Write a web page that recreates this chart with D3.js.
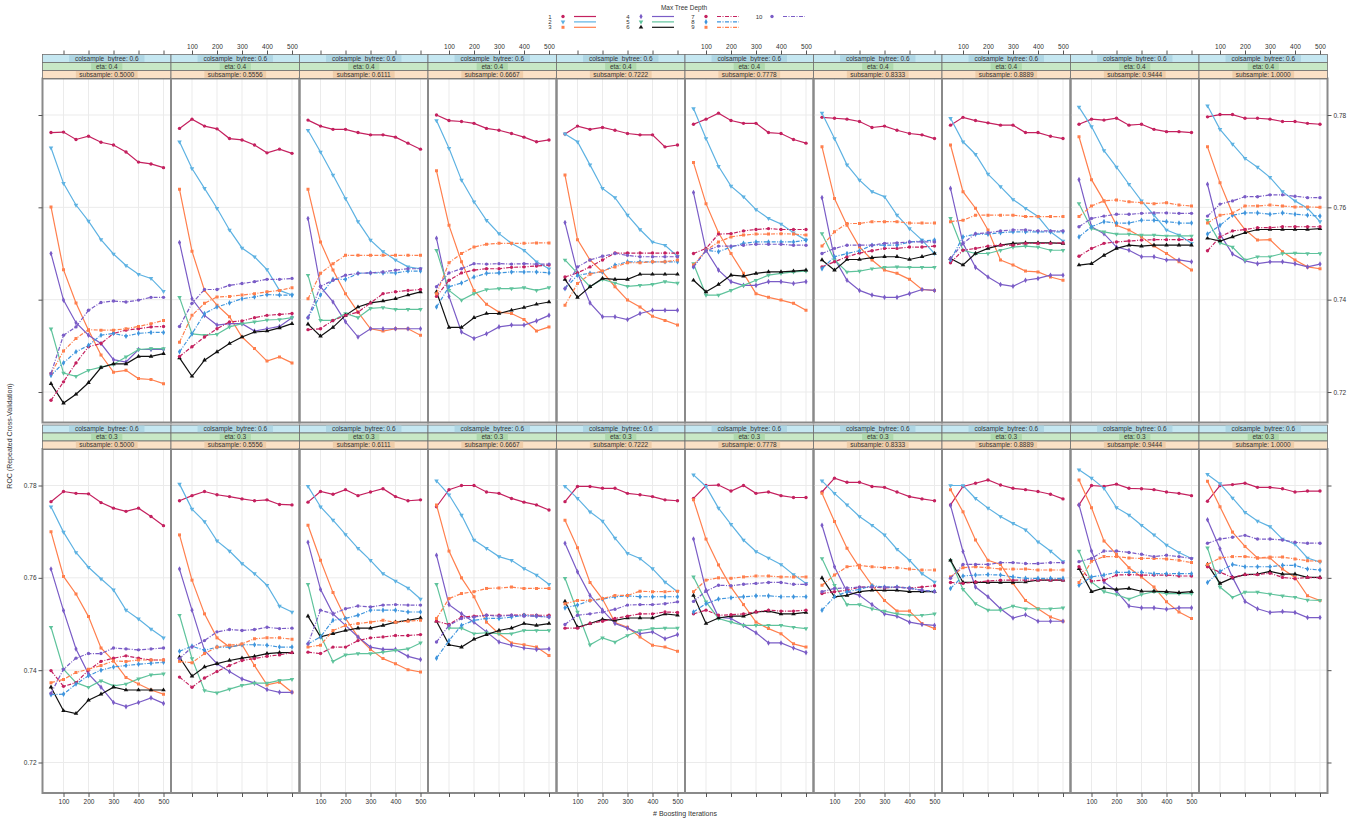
<!DOCTYPE html>
<html>
<head>
<meta charset="utf-8">
<script src="https://cdn.jsdelivr.net/npm/d3@7"></script>
<style>
  body { margin: 0; background: #fff; }
  text { font-family: "Liberation Sans", Arial, sans-serif; }
</style>
</head>
<body>
<svg id="chart" width="1357" height="820"></svg>
<script>
// ----- DATA -----
const iterations = [50, 100, 150, 200, 250, 300, 350, 400, 450, 500];
const depths = [1, 2, 3, 4, 5, 6, 7, 8, 9, 10];
const subsampleLabels = ["0.5000", "0.5556", "0.6111", "0.6667", "0.7222", "0.7778", "0.8333", "0.8889", "0.9444", "1.0000"];
const etaLabels = ["0.4", "0.3"];
const colsampleLabel = "0.6";
const xTicks = [100, 200, 300, 400, 500];
const yTicks = [0.72, 0.74, 0.76, 0.78];

// ROC per max tree depth (rows) by boosting iterations (columns), eta 0.4
const roc_eta04_sub05000 = [
  [.7762,.7763,.7747,.7754,.7741,.7735,.7720,.7698,.7694,.7686],
  [.7729,.7652,.7605,.7570,.7530,.7499,.7474,.7455,.7446,.7418],
  [.7601,.7465,.7393,.7334,.7280,.7243,.7247,.7229,.7227,.7218],
  [.7500,.7399,.7350,.7323,.7305,.7270,.7265,.7292,.7292,.7292],
  [.7337,.7241,.7234,.7247,.7254,.7260,.7276,.7292,.7294,.7294],
  [.7218,.7176,.7195,.7220,.7253,.7261,.7261,.7277,.7277,.7283],
  [.7182,.7222,.7263,.7298,.7305,.7327,.7334,.7337,.7341,.7342],
  [.7236,.7263,.7287,.7301,.7323,.7327,.7321,.7327,.7329,.7329],
  [.7240,.7289,.7316,.7335,.7334,.7334,.7337,.7342,.7348,.7355],
  [.7240,.7323,.7341,.7377,.7394,.7397,.7395,.7399,.7405,.7405]];
const roc_eta04_sub05556 = [
  [.7771,.7791,.7776,.7770,.7749,.7746,.7735,.7718,.7726,.7717],
  [.7742,.7684,.7641,.7598,.7551,.7512,.7493,.7465,.7420,.7410],
  [.7639,.7505,.7420,.7388,.7363,.7319,.7294,.7267,.7276,.7263],
  [.7524,.7402,.7366,.7345,.7348,.7348,.7332,.7337,.7342,.7361],
  [.7405,.7326,.7323,.7325,.7341,.7348,.7352,.7356,.7357,.7361],
  [.7274,.7234,.7269,.7287,.7305,.7319,.7330,.7332,.7339,.7348],
  [.7277,.7298,.7319,.7337,.7352,.7354,.7361,.7366,.7368,.7370],
  [.7287,.7326,.7370,.7384,.7393,.7402,.7406,.7411,.7410,.7410],
  [.7308,.7366,.7392,.7406,.7407,.7410,.7413,.7417,.7420,.7426],
  [.7342,.7392,.7422,.7422,.7431,.7435,.7439,.7444,.7444,.7446]];
const roc_eta04_sub06111 = [
  [.7789,.7776,.7769,.7769,.7762,.7757,.7757,.7752,.7739,.7726],
  [.7767,.7720,.7670,.7619,.7569,.7529,.7504,.7486,.7471,.7467],
  [.7639,.7525,.7464,.7413,.7373,.7337,.7332,.7337,.7337,.7323],
  [.7576,.7428,.7395,.7352,.7319,.7337,.7337,.7337,.7337,.7337],
  [.7453,.7355,.7355,.7370,.7361,.7381,.7383,.7379,.7379,.7379],
  [.7347,.7321,.7340,.7366,.7384,.7393,.7397,.7402,.7410,.7417],
  [.7335,.7337,.7355,.7366,.7373,.7393,.7413,.7417,.7420,.7422],
  [.7361,.7410,.7444,.7444,.7457,.7458,.7458,.7458,.7462,.7462],
  [.7402,.7457,.7478,.7496,.7496,.7496,.7496,.7496,.7496,.7496],
  [.7361,.7429,.7442,.7453,.7457,.7458,.7460,.7464,.7467,.7467]];
const roc_eta04_sub06667 = [
  [.7800,.7788,.7786,.7782,.7771,.7767,.7760,.7752,.7742,.7746],
  [.7788,.7728,.7659,.7612,.7572,.7543,.7522,.7507,.7482,.7467],
  [.7679,.7561,.7482,.7420,.7390,.7373,.7370,.7357,.7332,.7341],
  [.7533,.7407,.7330,.7316,.7326,.7341,.7345,.7345,.7354,.7366],
  [.7507,.7420,.7399,.7413,.7422,.7424,.7424,.7426,.7420,.7426],
  [.7417,.7340,.7340,.7361,.7370,.7370,.7377,.7383,.7390,.7395],
  [.7407,.7442,.7458,.7464,.7467,.7467,.7470,.7471,.7473,.7475],
  [.7384,.7428,.7436,.7449,.7457,.7458,.7460,.7460,.7460,.7458],
  [.7413,.7480,.7500,.7514,.7520,.7522,.7522,.7522,.7523,.7523],
  [.7428,.7458,.7467,.7478,.7477,.7478,.7477,.7478,.7477,.7477]];
const roc_eta04_sub07222 = [
  [.7759,.7776,.7769,.7773,.7767,.7760,.7757,.7757,.7731,.7735],
  [.7759,.7742,.7692,.7641,.7621,.7583,.7552,.7525,.7518,.7494],
  [.7670,.7530,.7486,.7460,.7428,.7399,.7384,.7364,.7355,.7345],
  [.7567,.7458,.7393,.7363,.7363,.7357,.7370,.7377,.7377,.7377],
  [.7486,.7457,.7428,.7444,.7436,.7429,.7431,.7433,.7439,.7436],
  [.7444,.7405,.7428,.7446,.7444,.7444,.7455,.7455,.7455,.7455],
  [.7449,.7458,.7471,.7486,.7501,.7501,.7501,.7501,.7501,.7501],
  [.7424,.7453,.7457,.7460,.7475,.7482,.7482,.7482,.7482,.7482],
  [.7388,.7435,.7455,.7462,.7471,.7480,.7480,.7482,.7482,.7486],
  [.7424,.7471,.7486,.7494,.7500,.7496,.7493,.7493,.7493,.7493]];
const roc_eta04_sub07778 = [
  [.7780,.7791,.7804,.7788,.7782,.7782,.7762,.7760,.7747,.7739],
  [.7814,.7749,.7689,.7646,.7623,.7595,.7576,.7564,.7545,.7529],
  [.7697,.7608,.7545,.7500,.7457,.7413,.7405,.7399,.7392,.7377],
  [.7632,.7507,.7464,.7439,.7431,.7431,.7439,.7439,.7435,.7439],
  [.7478,.7410,.7410,.7420,.7431,.7442,.7453,.7457,.7460,.7462],
  [.7442,.7417,.7433,.7453,.7451,.7457,.7460,.7460,.7462,.7464],
  [.7500,.7511,.7542,.7543,.7549,.7552,.7554,.7552,.7552,.7552],
  [.7471,.7507,.7504,.7514,.7522,.7525,.7525,.7525,.7525,.7529],
  [.7475,.7507,.7525,.7536,.7540,.7542,.7542,.7543,.7542,.7540],
  [.7471,.7506,.7516,.7516,.7518,.7520,.7520,.7520,.7518,.7518]];
const roc_eta04_sub08333 = [
  [.7795,.7793,.7791,.7786,.7773,.7776,.7767,.7760,.7757,.7749],
  [.7804,.7749,.7692,.7659,.7634,.7623,.7583,.7554,.7529,.7500],
  [.7731,.7619,.7561,.7514,.7486,.7464,.7457,.7444,.7422,.7420],
  [.7621,.7489,.7442,.7420,.7410,.7405,.7405,.7413,.7422,.7420],
  [.7543,.7486,.7460,.7462,.7467,.7470,.7471,.7470,.7470,.7470],
  [.7486,.7464,.7487,.7487,.7491,.7493,.7493,.7487,.7493,.7500],
  [.7471,.7482,.7493,.7501,.7506,.7511,.7511,.7514,.7514,.7516],
  [.7467,.7493,.7500,.7506,.7518,.7518,.7518,.7525,.7527,.7529],
  [.7516,.7547,.7565,.7565,.7569,.7569,.7569,.7566,.7566,.7566],
  [.7500,.7511,.7518,.7518,.7518,.7522,.7523,.7525,.7525,.7525]];
const roc_eta04_sub08889 = [
  [.7778,.7795,.7788,.7783,.7778,.7778,.7762,.7762,.7754,.7749],
  [.7793,.7742,.7715,.7672,.7645,.7617,.7598,.7580,.7547,.7527],
  [.7735,.7634,.7598,.7551,.7486,.7475,.7462,.7460,.7449,.7442],
  [.7641,.7522,.7470,.7449,.7433,.7429,.7442,.7446,.7453,.7453],
  [.7576,.7507,.7500,.7500,.7507,.7514,.7516,.7514,.7507,.7507],
  [.7489,.7475,.7500,.7511,.7518,.7522,.7523,.7523,.7523,.7522],
  [.7480,.7507,.7511,.7516,.7518,.7518,.7522,.7522,.7522,.7523],
  [.7486,.7536,.7542,.7542,.7545,.7547,.7547,.7547,.7547,.7547],
  [.7569,.7572,.7583,.7583,.7583,.7583,.7580,.7580,.7580,.7580],
  [.7489,.7522,.7543,.7545,.7549,.7551,.7551,.7549,.7549,.7549]];
const roc_eta04_sub09444 = [
  [.7780,.7791,.7789,.7793,.7778,.7780,.7769,.7764,.7764,.7762],
  [.7817,.7775,.7723,.7687,.7650,.7614,.7583,.7551,.7540,.7522],
  [.7753,.7660,.7614,.7561,.7551,.7536,.7516,.7500,.7482,.7464],
  [.7660,.7558,.7543,.7514,.7507,.7493,.7493,.7486,.7486,.7482],
  [.7608,.7554,.7547,.7542,.7542,.7540,.7540,.7538,.7538,.7538],
  [.7475,.7478,.7496,.7511,.7518,.7516,.7518,.7518,.7518,.7518],
  [.7494,.7511,.7522,.7525,.7527,.7529,.7530,.7530,.7530,.7530],
  [.7536,.7558,.7569,.7566,.7566,.7572,.7572,.7569,.7566,.7566],
  [.7580,.7603,.7614,.7616,.7612,.7610,.7608,.7610,.7605,.7603],
  [.7558,.7576,.7581,.7585,.7585,.7587,.7588,.7588,.7587,.7587]];
const roc_eta04_sub10000 = [
  [.7796,.7801,.7801,.7793,.7793,.7791,.7786,.7786,.7782,.7780],
  [.7820,.7769,.7737,.7706,.7687,.7665,.7634,.7614,.7598,.7569],
  [.7731,.7653,.7587,.7552,.7529,.7530,.7504,.7486,.7471,.7467],
  [.7650,.7542,.7499,.7484,.7478,.7482,.7482,.7478,.7471,.7477],
  [.7572,.7523,.7514,.7486,.7493,.7493,.7500,.7501,.7500,.7500],
  [.7533,.7527,.7536,.7545,.7552,.7552,.7552,.7552,.7552,.7554],
  [.7506,.7536,.7549,.7552,.7556,.7556,.7558,.7558,.7558,.7558],
  [.7542,.7561,.7583,.7588,.7588,.7585,.7588,.7585,.7583,.7581],
  [.7566,.7583,.7587,.7603,.7603,.7605,.7603,.7601,.7601,.7600],
  [.7581,.7607,.7614,.7623,.7623,.7627,.7627,.7624,.7621,.7621]];

// eta 0.3
const roc_eta03_sub05000 = [
  [.7765,.7787,.7783,.7782,.7763,.7751,.7744,.7751,.7733,.7713],
  [.7754,.7699,.7655,.7623,.7598,.7574,.7530,.7511,.7489,.7470],
  [.7700,.7603,.7565,.7516,.7448,.7420,.7384,.7370,.7357,.7348],
  [.7619,.7529,.7446,.7392,.7363,.7330,.7321,.7330,.7340,.7328],
  [.7493,.7402,.7373,.7363,.7377,.7366,.7370,.7381,.7390,.7392],
  [.7363,.7312,.7306,.7335,.7348,.7363,.7357,.7357,.7357,.7357],
  [.7399,.7365,.7373,.7400,.7419,.7426,.7431,.7426,.7422,.7422],
  [.7347,.7348,.7370,.7388,.7400,.7407,.7410,.7413,.7415,.7417],
  [.7373,.7380,.7395,.7402,.7410,.7420,.7419,.7422,.7422,.7422],
  [.7350,.7402,.7426,.7436,.7436,.7448,.7446,.7444,.7446,.7448]];
const roc_eta03_sub05556 = [
  [.7767,.7778,.7787,.7780,.7776,.7771,.7767,.7769,.7759,.7758],
  [.7803,.7749,.7722,.7680,.7658,.7631,.7609,.7584,.7539,.7526],
  [.7693,.7595,.7522,.7470,.7450,.7455,.7410,.7368,.7374,.7352],
  [.7619,.7530,.7443,.7414,.7397,.7381,.7372,.7358,.7352,.7352],
  [.7519,.7425,.7356,.7351,.7359,.7367,.7372,.7372,.7378,.7380],
  [.7428,.7387,.7407,.7414,.7421,.7426,.7430,.7436,.7438,.7438],
  [.7385,.7363,.7383,.7397,.7410,.7421,.7425,.7430,.7433,.7438],
  [.7441,.7452,.7443,.7450,.7450,.7455,.7455,.7454,.7450,.7450],
  [.7419,.7416,.7436,.7450,.7454,.7457,.7468,.7470,.7470,.7467],
  [.7425,.7450,.7464,.7483,.7488,.7486,.7488,.7493,.7490,.7491]];
const roc_eta03_sub06111 = [
  [.7764,.7787,.7781,.7791,.7778,.7786,.7793,.7776,.7767,.7769],
  [.7798,.7754,.7725,.7694,.7664,.7638,.7609,.7593,.7578,.7554],
  [.7714,.7638,.7568,.7512,.7472,.7445,.7425,.7414,.7401,.7396],
  [.7677,.7575,.7522,.7497,.7472,.7450,.7445,.7445,.7430,.7423],
  [.7586,.7475,.7419,.7433,.7436,.7436,.7439,.7443,.7446,.7459],
  [.7517,.7472,.7479,.7486,.7491,.7491,.7497,.7504,.7508,.7513],
  [.7439,.7436,.7450,.7450,.7464,.7470,.7472,.7475,.7475,.7477],
  [.7457,.7472,.7508,.7512,.7519,.7530,.7530,.7530,.7526,.7526],
  [.7450,.7454,.7486,.7497,.7501,.7504,.7508,.7504,.7506,.7508],
  [.7457,.7530,.7522,.7533,.7539,.7537,.7541,.7542,.7541,.7541]];
const roc_eta03_sub06667 = [
  [.7754,.7791,.7800,.7800,.7786,.7783,.7772,.7764,.7758,.7747],
  [.7810,.7780,.7736,.7682,.7664,.7646,.7638,.7620,.7606,.7586],
  [.7758,.7658,.7600,.7559,.7504,.7479,.7459,.7455,.7450,.7432],
  [.7649,.7542,.7522,.7504,.7483,.7461,.7454,.7448,.7445,.7446],
  [.7586,.7491,.7491,.7479,.7481,.7479,.7479,.7486,.7486,.7486],
  [.7506,.7455,.7450,.7467,.7477,.7486,.7491,.7501,.7497,.7501],
  [.7506,.7499,.7515,.7517,.7519,.7519,.7519,.7520,.7519,.7519],
  [.7426,.7464,.7497,.7508,.7512,.7512,.7515,.7519,.7517,.7515],
  [.7512,.7555,.7566,.7570,.7577,.7578,.7580,.7577,.7577,.7577],
  [.7461,.7497,.7512,.7515,.7519,.7517,.7519,.7517,.7517,.7515]];
const roc_eta03_sub07222 = [
  [.7765,.7798,.7798,.7794,.7794,.7783,.7780,.7776,.7769,.7767],
  [.7798,.7772,.7743,.7723,.7686,.7653,.7642,.7620,.7591,.7570],
  [.7725,.7665,.7590,.7554,.7503,.7493,.7472,.7454,.7450,.7441],
  [.7675,.7613,.7562,.7530,.7501,.7491,.7479,.7483,.7468,.7477],
  [.7599,.7526,.7455,.7470,.7461,.7475,.7486,.7490,.7491,.7491],
  [.7549,.7493,.7501,.7510,.7508,.7513,.7513,.7513,.7522,.7519],
  [.7491,.7491,.7501,.7506,.7512,.7517,.7522,.7522,.7526,.7525],
  [.7535,.7541,.7551,.7554,.7559,.7561,.7559,.7559,.7559,.7559],
  [.7544,.7551,.7551,.7555,.7562,.7562,.7571,.7570,.7570,.7571],
  [.7499,.7519,.7522,.7526,.7532,.7541,.7542,.7542,.7544,.7548]];
const roc_eta03_sub07778 = [
  [.7772,.7800,.7801,.7788,.7800,.7783,.7786,.7778,.7774,.7774],
  [.7823,.7798,.7751,.7716,.7682,.7657,.7643,.7629,.7607,.7588],
  [.7769,.7684,.7628,.7580,.7542,.7504,.7490,.7479,.7457,.7450],
  [.7684,.7573,.7515,.7512,.7497,.7481,.7459,.7459,.7448,.7438],
  [.7602,.7548,.7512,.7504,.7497,.7497,.7497,.7497,.7493,.7490],
  [.7562,.7501,.7513,.7517,.7517,.7526,.7528,.7522,.7522,.7525],
  [.7522,.7530,.7519,.7520,.7522,.7526,.7530,.7528,.7528,.7530],
  [.7526,.7544,.7554,.7557,.7559,.7561,.7561,.7559,.7559,.7559],
  [.7570,.7595,.7600,.7599,.7602,.7604,.7604,.7602,.7602,.7602],
  [.7549,.7571,.7584,.7583,.7586,.7588,.7590,.7590,.7586,.7586]];
const roc_eta03_sub08333 = [
  [.7786,.7816,.7807,.7807,.7798,.7796,.7786,.7776,.7771,.7767],
  [.7810,.7783,.7758,.7733,.7714,.7693,.7662,.7638,.7609,.7591],
  [.7783,.7722,.7664,.7622,.7584,.7551,.7528,.7528,.7501,.7490],
  [.7714,.7624,.7570,.7562,.7542,.7522,.7517,.7504,.7499,.7497],
  [.7642,.7584,.7542,.7542,.7533,.7528,.7522,.7519,.7519,.7522],
  [.7600,.7559,.7562,.7570,.7573,.7573,.7573,.7570,.7570,.7570],
  [.7566,.7570,.7573,.7580,.7580,.7578,.7580,.7578,.7580,.7583],
  [.7530,.7559,.7570,.7575,.7583,.7580,.7580,.7578,.7573,.7571],
  [.7584,.7606,.7624,.7627,.7624,.7622,.7622,.7619,.7617,.7617],
  [.7570,.7577,.7578,.7580,.7580,.7580,.7580,.7577,.7573,.7570]];
const roc_eta03_sub08889 = [
  [.7758,.7798,.7805,.7812,.7801,.7794,.7791,.7787,.7781,.7771],
  [.7800,.7800,.7772,.7751,.7733,.7718,.7704,.7678,.7658,.7635],
  [.7791,.7743,.7682,.7638,.7629,.7588,.7551,.7533,.7515,.7506],
  [.7757,.7657,.7580,.7559,.7533,.7513,.7520,.7506,.7506,.7506],
  [.7638,.7575,.7544,.7530,.7530,.7539,.7533,.7533,.7533,.7535],
  [.7638,.7590,.7590,.7590,.7590,.7590,.7591,.7595,.7595,.7595],
  [.7590,.7588,.7591,.7593,.7595,.7595,.7595,.7595,.7595,.7595],
  [.7577,.7604,.7606,.7607,.7606,.7602,.7599,.7599,.7599,.7599],
  [.7602,.7622,.7624,.7622,.7619,.7619,.7619,.7617,.7617,.7617],
  [.7599,.7629,.7629,.7629,.7633,.7633,.7631,.7631,.7633,.7633]];
const roc_eta03_sub09444 = [
  [.7758,.7800,.7798,.7803,.7794,.7793,.7791,.7786,.7783,.7778],
  [.7834,.7816,.7794,.7752,.7736,.7714,.7693,.7671,.7655,.7642],
  [.7812,.7752,.7680,.7651,.7622,.7602,.7580,.7548,.7526,.7512],
  [.7758,.7658,.7591,.7571,.7539,.7535,.7535,.7532,.7535,.7535],
  [.7658,.7591,.7570,.7564,.7554,.7564,.7570,.7566,.7566,.7566],
  [.7620,.7570,.7578,.7575,.7577,.7571,.7571,.7570,.7568,.7570],
  [.7624,.7593,.7595,.7606,.7607,.7606,.7606,.7606,.7604,.7604],
  [.7584,.7602,.7606,.7612,.7612,.7612,.7609,.7609,.7609,.7609],
  [.7590,.7636,.7646,.7646,.7643,.7642,.7642,.7641,.7638,.7633],
  [.7635,.7642,.7658,.7658,.7655,.7651,.7646,.7649,.7646,.7642]];
const roc_eta03_sub10000 = [
  [.7766,.7800,.7802,.7805,.7796,.7796,.7793,.7786,.7788,.7788],
  [.7824,.7804,.7773,.7742,.7723,.7711,.7684,.7673,.7643,.7634],
  [.7809,.7754,.7699,.7668,.7643,.7643,.7619,.7601,.7561,.7551],
  [.7726,.7663,.7601,.7549,.7533,.7525,.7527,.7525,.7514,.7514],
  [.7665,.7580,.7558,.7569,.7569,.7565,.7561,.7558,.7552,.7551],
  [.7629,.7588,.7600,.7607,.7608,.7614,.7608,.7608,.7601,.7601],
  [.7624,.7612,.7601,.7607,.7607,.7610,.7601,.7598,.7601,.7600],
  [.7590,.7614,.7629,.7624,.7624,.7624,.7627,.7627,.7619,.7617],
  [.7629,.7643,.7646,.7646,.7643,.7645,.7645,.7641,.7637,.7636],
  [.7675,.7684,.7688,.7692,.7684,.7684,.7682,.7677,.7675,.7675]];

const panelsEta04 = [roc_eta04_sub05000, roc_eta04_sub05556, roc_eta04_sub06111, roc_eta04_sub06667, roc_eta04_sub07222,
  roc_eta04_sub07778, roc_eta04_sub08333, roc_eta04_sub08889, roc_eta04_sub09444, roc_eta04_sub10000];
const panelsEta03 = [roc_eta03_sub05000, roc_eta03_sub05556, roc_eta03_sub06111, roc_eta03_sub06667, roc_eta03_sub07222,
  roc_eta03_sub07778, roc_eta03_sub08333, roc_eta03_sub08889, roc_eta03_sub09444, roc_eta03_sub10000];

// ----- STYLE -----
const colors = ["#c4215f", "#5eb2e2", "#ff7f4d", "#7a5cc6", "#5fc39c", "#111111",
                "#c4215f", "#3f95dd", "#ff7f4d", "#7a5cc6"];
const dashes = [null, null, null, null, null, null, "4,1.5,1,1.5", "4,1.5,1,1.5", "4,1.5,1,1.5", "4,1.5,1,1.5"];
const shapes = [d3.symbolCircle, d3.symbolTriangle, d3.symbolSquare, d3.symbolDiamond, d3.symbolTriangle,
                d3.symbolTriangle, d3.symbolCircle, d3.symbolDiamond, d3.symbolSquare, d3.symbolCircle];
const flip = [false, true, false, false, true, false, false, false, false, false];
const stripFills = ["#c5e7f1", "#c8e8c6", "#fbe1c6"];
const stripInner = ["#aed6e4", "#afd9ad", "#f0cda9"];

const gridLeft = 42.5, panelW = 128.5, panelH = 344, stripH = 8;
const rows = [{stripTop: 54.5, eta: etaLabels[0], data: panelsEta04},
              {stripTop: 425, eta: etaLabels[1], data: panelsEta03}];

const svg = d3.select("#chart");

const x = d3.scaleLinear().domain([16, 530]).range([0, panelW]);
const y = d3.scaleLinear().domain([0.71339, 0.78791]).range([panelH, 0]);

const line = d3.line()
  .x((d, i) => x(iterations[i]))
  .y(d => y(d));

rows.forEach((row, r) => {
  const panelTop = row.stripTop + 3 * stripH;
  row.data.forEach((panel, c) => {
    const left = gridLeft + c * panelW;
    const g = svg.append("g").attr("transform", "translate(" + left + "," + panelTop + ")");
    const clipId = "clip" + r + "_" + c;
    g.append("clipPath").attr("id", clipId)
      .append("rect").attr("width", panelW).attr("height", panelH);

    // grid
    g.selectAll(".vg").data(xTicks).enter().append("line")
      .attr("x1", d => x(d)).attr("x2", d => x(d))
      .attr("y1", 0).attr("y2", panelH)
      .attr("stroke", "#ebebeb").attr("stroke-width", 1);
    g.selectAll(".hg").data(yTicks).enter().append("line")
      .attr("x1", 0).attr("x2", panelW)
      .attr("y1", d => y(d)).attr("y2", d => y(d))
      .attr("stroke", "#ebebeb").attr("stroke-width", 1);

    const plot = g.append("g").attr("clip-path", "url(#" + clipId + ")");
    panel.forEach((series, s) => {
      plot.append("path")
        .datum(series)
        .attr("d", line)
        .attr("fill", "none")
        .attr("stroke", colors[s])
        .attr("stroke-width", 1.2)
        .attr("stroke-dasharray", dashes[s]);
      plot.selectAll(".pt" + s).data(series).enter().append("path")
        .attr("d", d3.symbol().type(shapes[s]).size(9))
        .attr("transform", (d, i) => "translate(" + x(iterations[i]) + "," + y(d) + ")" + (flip[s] ? " rotate(180)" : ""))
        .attr("fill", colors[s]);
    });

    // panel border
    g.append("rect").attr("width", panelW).attr("height", panelH)
      .attr("fill", "none").attr("stroke", "#8a8a8a").attr("stroke-width", 2);

    // strips
    const stripTexts = ["colsample_bytree: " + colsampleLabel, "eta: " + row.eta, "subsample: " + subsampleLabels[c]];
    stripTexts.forEach((t, k) => {
      const sy = row.stripTop + k * stripH - panelTop;
      g.append("rect").attr("x", 0).attr("y", sy).attr("width", panelW).attr("height", stripH)
        .attr("fill", stripFills[k]).attr("stroke", "#6f6f6f").attr("stroke-width", 0.8);
      const tw = t.length * 3.4 + 4;
      g.append("rect").attr("x", panelW / 2 - tw / 2).attr("y", sy + 0.6).attr("width", tw).attr("height", stripH - 1.2)
        .attr("fill", stripInner[k]);
      g.append("text").attr("x", panelW / 2).attr("y", sy + stripH / 2)
        .attr("dy", "0.35em").attr("text-anchor", "middle")
        .attr("font-size", 6.5).attr("fill", "#333").text(t);
    });

    // x axes: ticks everywhere, labels alternate
    if (r === 0) {
      const ax = d3.axisTop(x).tickValues(xTicks).tickSize(4).tickPadding(2)
        .tickFormat(c % 2 === 1 ? d3.format("d") : "");
      svg.append("g").attr("transform", "translate(" + left + "," + row.stripTop + ")").call(ax)
        .call(a => a.select(".domain").remove());
    } else {
      const ax = d3.axisBottom(x).tickValues(xTicks).tickSize(4).tickPadding(2)
        .tickFormat(c % 2 === 0 ? d3.format("d") : "");
      svg.append("g").attr("transform", "translate(" + left + "," + (panelTop + panelH) + ")").call(ax)
        .call(a => a.select(".domain").remove());
    }
  });

  // y axes
  const ayL = d3.axisLeft(y).tickValues(yTicks).tickSize(4).tickPadding(2)
    .tickFormat(r === 1 ? d3.format(".2f") : "");
  svg.append("g").attr("transform", "translate(" + gridLeft + "," + panelTop + ")").call(ayL)
    .call(a => a.select(".domain").remove());
  const ayR = d3.axisRight(y).tickValues(yTicks).tickSize(4).tickPadding(2)
    .tickFormat(r === 0 ? d3.format(".2f") : "");
  svg.append("g").attr("transform", "translate(" + (gridLeft + 10 * panelW) + "," + panelTop + ")").call(ayR)
    .call(a => a.select(".domain").remove());
});

svg.selectAll(".tick text").attr("font-size", 6.5).attr("fill", "#333")
  .style("font-family", "'Liberation Sans', Arial, sans-serif");
svg.selectAll(".tick line").attr("stroke", "#555");

// axis titles
svg.append("text").attr("x", 685).attr("y", 816).attr("text-anchor", "middle")
  .attr("font-size", 7).attr("fill", "#333").text("# Boosting Iterations");
svg.append("text").attr("transform", "translate(12,436) rotate(-90)").attr("text-anchor", "middle")
  .attr("font-size", 7).attr("fill", "#333").text("ROC (Repeated Cross-Validation)");

// ----- LEGEND -----
const legend = svg.append("g");
legend.append("text").attr("x", 684).attr("y", 7.5).attr("dy", "0.35em").attr("text-anchor", "middle")
  .attr("font-size", 6.5).attr("fill", "#333").text("Max Tree Depth");
const legCols = [550, 628, 693, 759];
depths.forEach((dp, i) => {
  const col = Math.floor(i / 3), row = i % 3;
  const lx = legCols[col], ly = 16.5 + row * 5.4;
  legend.append("text").attr("x", lx).attr("y", ly).attr("dy", "0.35em").attr("text-anchor", "middle")
    .attr("font-size", 6).attr("fill", "#333").text(dp);
  legend.append("path").attr("d", d3.symbol().type(shapes[i]).size(9))
    .attr("transform", "translate(" + (lx + 13) + "," + ly + ")" + (flip[i] ? " rotate(180)" : ""))
    .attr("fill", colors[i]);
  legend.append("line").attr("x1", lx + 24).attr("x2", lx + 46).attr("y1", ly).attr("y2", ly)
    .attr("stroke", colors[i]).attr("stroke-width", 1.2).attr("stroke-dasharray", dashes[i]);
});
</script>
</body>
</html>
